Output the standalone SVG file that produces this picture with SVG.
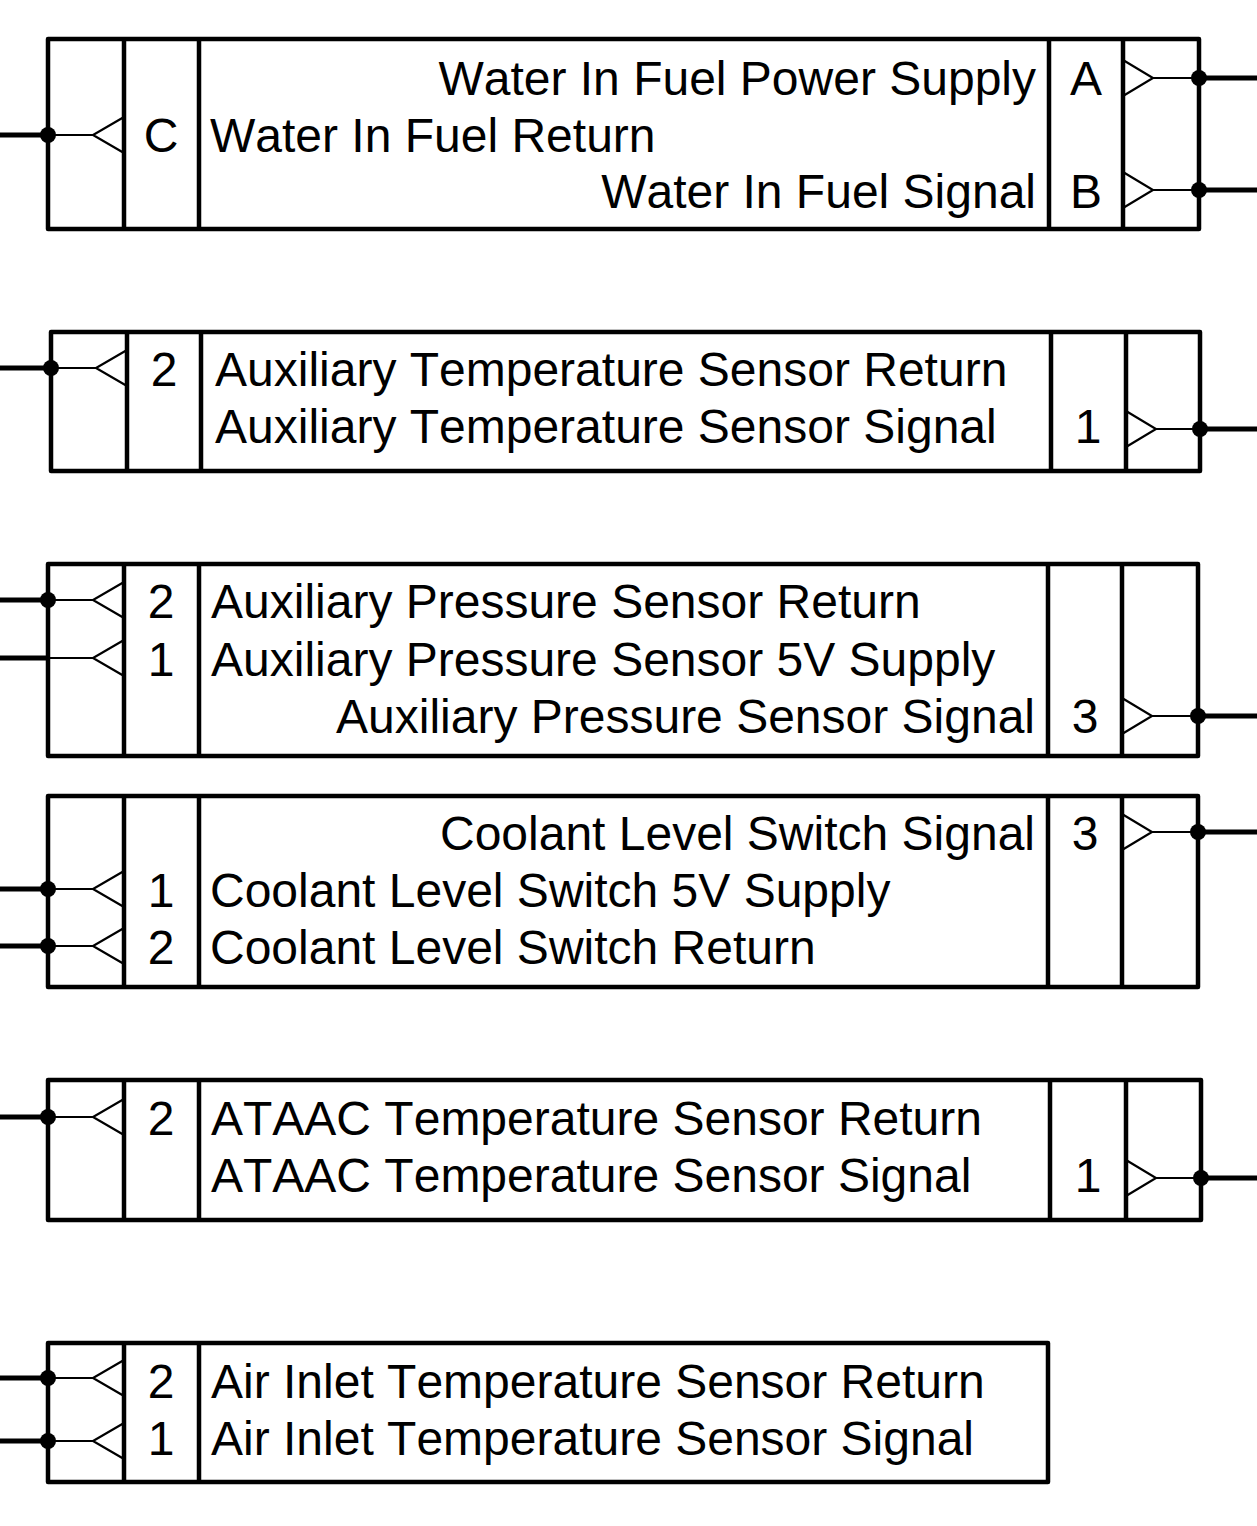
<svg xmlns="http://www.w3.org/2000/svg" width="1257" height="1526" viewBox="0 0 1257 1526">
<style>
.box{fill:none;stroke:#000;stroke-width:4.5;stroke-linejoin:round}
.div{stroke:#000;stroke-width:4.5}
.thin{fill:none;stroke:#000;stroke-width:2.2}
.wire{stroke:#000;stroke-width:5}
.dot{fill:#000}
text{font-family:"Liberation Sans",Arial,sans-serif;font-size:48px;fill:#000;font-kerning:none}
.mid{text-anchor:middle}
.end{text-anchor:end}
</style>
<rect width="1257" height="1526" fill="#fff"/>

<g id="block1">
<rect class="box" x="48" y="39" width="1151" height="190"/>
<line class="div" x1="124" y1="39" x2="124" y2="229"/>
<line class="div" x1="199" y1="39" x2="199" y2="229"/>
<line class="div" x1="1049" y1="39" x2="1049" y2="229"/>
<line class="div" x1="1123" y1="39" x2="1123" y2="229"/>
<text class="end" x="1036" y="95">Water In Fuel Power Supply</text>
<text x="210" y="152">Water In Fuel Return</text>
<text class="end" x="1036" y="208">Water In Fuel Signal</text>
<text class="mid" x="161" y="152">C</text>
<text class="mid" x="1086" y="95">A</text>
<text class="mid" x="1086" y="208">B</text>
</g>

<g id="block2">
<rect class="box" x="51" y="332" width="1149" height="139"/>
<line class="div" x1="127" y1="332" x2="127" y2="471"/>
<line class="div" x1="201" y1="332" x2="201" y2="471"/>
<line class="div" x1="1051" y1="332" x2="1051" y2="471"/>
<line class="div" x1="1126" y1="332" x2="1126" y2="471"/>
<text x="215" y="386">Auxiliary Temperature Sensor Return</text>
<text x="215" y="443">Auxiliary Temperature Sensor Signal</text>
<text class="mid" x="164" y="386">2</text>
<text class="mid" x="1088" y="443">1</text>
</g>

<g id="block3">
<rect class="box" x="48" y="564" width="1150" height="192"/>
<line class="div" x1="124" y1="564" x2="124" y2="756"/>
<line class="div" x1="199" y1="564" x2="199" y2="756"/>
<line class="div" x1="1048" y1="564" x2="1048" y2="756"/>
<line class="div" x1="1122" y1="564" x2="1122" y2="756"/>
<text x="211" y="618">Auxiliary Pressure Sensor Return</text>
<text x="211" y="676">Auxiliary Pressure Sensor 5V Supply</text>
<text class="end" x="1035" y="733">Auxiliary Pressure Sensor Signal</text>
<text class="mid" x="161" y="618">2</text>
<text class="mid" x="161" y="676">1</text>
<text class="mid" x="1085" y="733">3</text>
</g>

<g id="block4">
<rect class="box" x="48" y="796" width="1150" height="191"/>
<line class="div" x1="124" y1="796" x2="124" y2="987"/>
<line class="div" x1="199" y1="796" x2="199" y2="987"/>
<line class="div" x1="1048" y1="796" x2="1048" y2="987"/>
<line class="div" x1="1122" y1="796" x2="1122" y2="987"/>
<text class="end" x="1035" y="850">Coolant Level Switch Signal</text>
<text x="210" y="907">Coolant Level Switch 5V Supply</text>
<text x="210" y="964">Coolant Level Switch Return</text>
<text class="mid" x="1085" y="850">3</text>
<text class="mid" x="161" y="907">1</text>
<text class="mid" x="161" y="964">2</text>
</g>

<g id="block5">
<rect class="box" x="48" y="1080" width="1153" height="140"/>
<line class="div" x1="124" y1="1080" x2="124" y2="1220"/>
<line class="div" x1="199" y1="1080" x2="199" y2="1220"/>
<line class="div" x1="1050" y1="1080" x2="1050" y2="1220"/>
<line class="div" x1="1126" y1="1080" x2="1126" y2="1220"/>
<text x="211" y="1135">ATAAC Temperature Sensor Return</text>
<text x="211" y="1192">ATAAC Temperature Sensor Signal</text>
<text class="mid" x="161" y="1135">2</text>
<text class="mid" x="1088" y="1192">1</text>
</g>

<g id="block6">
<rect class="box" x="48" y="1343" width="1000" height="139"/>
<line class="div" x1="124" y1="1343" x2="124" y2="1482"/>
<line class="div" x1="199" y1="1343" x2="199" y2="1482"/>
<text x="211" y="1398">Air Inlet Temperature Sensor Return</text>
<text x="211" y="1455">Air Inlet Temperature Sensor Signal</text>
<text class="mid" x="161" y="1398">2</text>
<text class="mid" x="161" y="1455">1</text>
</g>

<g id="connectors">
<line class="wire" x1="0" y1="135" x2="48" y2="135"/>
<polyline class="thin" points="48,135 93,135"/>
<polyline class="thin" points="124,117 93,135 124,153"/>
<circle class="dot" cx="48" cy="135" r="8"/>
<polyline class="thin" points="1123,60 1153,78 1123,96"/>
<line class="thin" x1="1153" y1="78" x2="1199" y2="78"/>
<line class="wire" x1="1199" y1="78" x2="1257" y2="78"/>
<circle class="dot" cx="1199" cy="78" r="8"/>
<polyline class="thin" points="1123,172 1153,190 1123,208"/>
<line class="thin" x1="1153" y1="190" x2="1199" y2="190"/>
<line class="wire" x1="1199" y1="190" x2="1257" y2="190"/>
<circle class="dot" cx="1199" cy="190" r="8"/>
<line class="wire" x1="0" y1="368" x2="51" y2="368"/>
<line class="thin" x1="51" y1="368" x2="96" y2="368"/>
<polyline class="thin" points="127,350 96,368 127,386"/>
<circle class="dot" cx="51" cy="368" r="8"/>
<polyline class="thin" points="1126,411 1156,429 1126,447"/>
<line class="thin" x1="1156" y1="429" x2="1200" y2="429"/>
<line class="wire" x1="1200" y1="429" x2="1257" y2="429"/>
<circle class="dot" cx="1200" cy="429" r="8"/>
<line class="wire" x1="0" y1="600" x2="48" y2="600"/>
<line class="thin" x1="48" y1="600" x2="93" y2="600"/>
<polyline class="thin" points="124,582 93,600 124,618"/>
<circle class="dot" cx="48" cy="600" r="8"/>
<line class="wire" x1="0" y1="658" x2="48" y2="658"/>
<line class="thin" x1="48" y1="658" x2="93" y2="658"/>
<polyline class="thin" points="124,640 93,658 124,676"/>
<polyline class="thin" points="1122,698 1152,716 1122,734"/>
<line class="thin" x1="1152" y1="716" x2="1198" y2="716"/>
<line class="wire" x1="1198" y1="716" x2="1257" y2="716"/>
<circle class="dot" cx="1198" cy="716" r="8"/>
<polyline class="thin" points="1122,814 1152,832 1122,850"/>
<line class="thin" x1="1152" y1="832" x2="1198" y2="832"/>
<line class="wire" x1="1198" y1="832" x2="1257" y2="832"/>
<circle class="dot" cx="1198" cy="832" r="8"/>
<line class="wire" x1="0" y1="889" x2="48" y2="889"/>
<line class="thin" x1="48" y1="889" x2="93" y2="889"/>
<polyline class="thin" points="124,871 93,889 124,907"/>
<circle class="dot" cx="48" cy="889" r="8"/>
<line class="wire" x1="0" y1="946" x2="48" y2="946"/>
<line class="thin" x1="48" y1="946" x2="93" y2="946"/>
<polyline class="thin" points="124,928 93,946 124,964"/>
<circle class="dot" cx="48" cy="946" r="8"/>
<line class="wire" x1="0" y1="1117" x2="48" y2="1117"/>
<line class="thin" x1="48" y1="1117" x2="93" y2="1117"/>
<polyline class="thin" points="124,1099 93,1117 124,1135"/>
<circle class="dot" cx="48" cy="1117" r="8"/>
<polyline class="thin" points="1126,1160 1156,1178 1126,1196"/>
<line class="thin" x1="1156" y1="1178" x2="1201" y2="1178"/>
<line class="wire" x1="1201" y1="1178" x2="1257" y2="1178"/>
<circle class="dot" cx="1201" cy="1178" r="8"/>
<line class="wire" x1="0" y1="1378" x2="48" y2="1378"/>
<line class="thin" x1="48" y1="1378" x2="93" y2="1378"/>
<polyline class="thin" points="124,1360 93,1378 124,1396"/>
<circle class="dot" cx="48" cy="1378" r="8"/>
<line class="wire" x1="0" y1="1441" x2="48" y2="1441"/>
<line class="thin" x1="48" y1="1441" x2="93" y2="1441"/>
<polyline class="thin" points="124,1423 93,1441 124,1459"/>
<circle class="dot" cx="48" cy="1441" r="8"/>
</g>
</svg>
